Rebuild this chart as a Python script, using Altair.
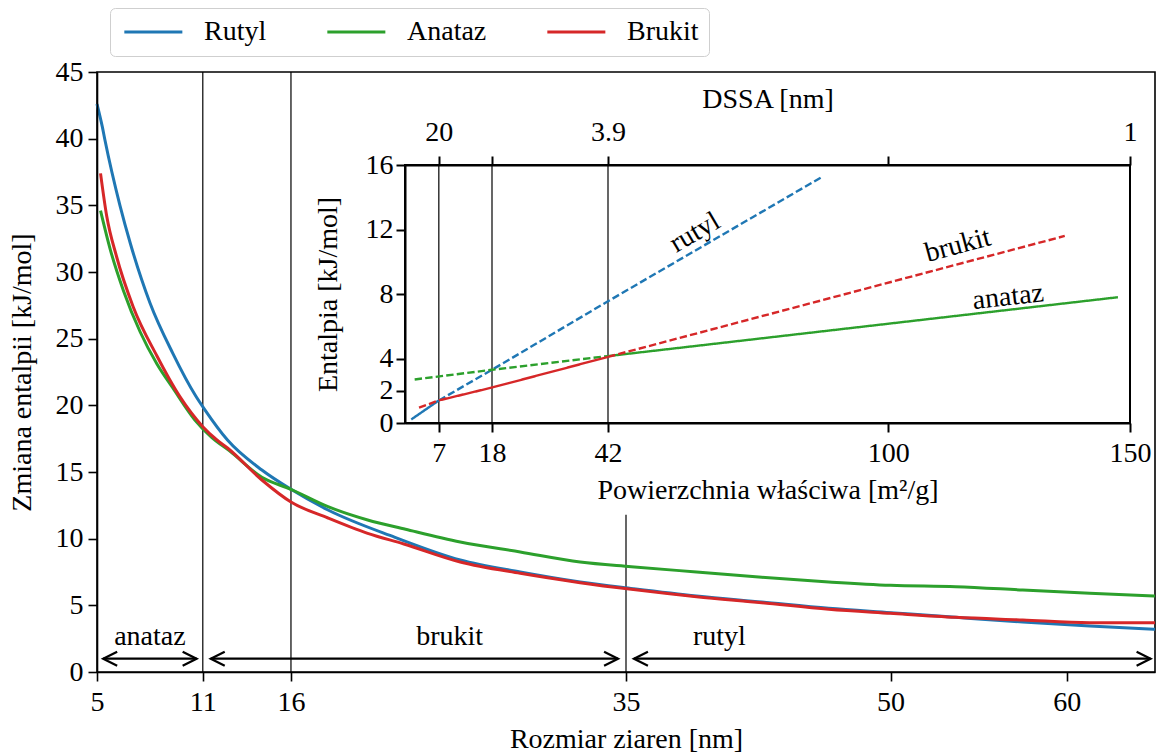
import altair as alt
import pandas as pd

FONT = "Liberation Serif"
FS = 28

# ---------------- main chart data ----------------
series_names = ["Rutyl", "Anataz", "Brukit"]
series_colors = ["#1f77b4", "#2ca02c", "#d62728"]

rutyl_size = [5.0, 5.3, 5.45, 6.3, 6.9, 8.0, 9.3, 10.6, 11.1, 12.4, 14.35, 16.0, 18.1, 21.9,
              25.6, 29.0, 32.4, 35.4, 39.0, 42.7, 46.5, 50.0, 53.7, 57.5, 61.3, 65.0]
rutyl_dh = [42.6, 40.9, 39.9, 35.0, 32.1, 27.7, 23.9, 20.7, 19.7, 17.4, 15.15, 13.7, 12.15, 10.1,
            8.4, 7.5, 6.75, 6.25, 5.7, 5.25, 4.78, 4.45, 4.1, 3.75, 3.45, 3.2]

anataz_size = [5.2, 5.75, 6.5, 7.45, 8.4, 9.3, 10.55, 11.5, 12.5, 14.35, 16.0, 18.1, 20.35, 22.5,
               25.6, 29.0, 32.4, 35.3, 39.0, 42.7, 46.5, 50.0, 53.7, 57.5, 61.3, 65.0]
anataz_dh = [34.6, 31.7, 28.6, 25.5, 23.1, 21.3, 18.9, 17.6, 16.6, 14.6, 13.7, 12.4, 11.4, 10.7,
             9.75, 9.0, 8.25, 7.9, 7.5, 7.1, 6.75, 6.5, 6.4, 6.15, 5.9, 5.7]

brukit_size = [5.2, 5.55, 6.1, 7.05, 8.4, 9.7, 11.0, 11.8, 12.4, 14.35, 16.0, 18.1, 20.35, 22.4,
               25.6, 29.0, 32.4, 35.3, 39.0, 42.7, 46.5, 50.0, 53.7, 57.5, 61.3, 65.0]
brukit_dh = [37.4, 34.2, 31.2, 27.4, 23.7, 20.65, 18.4, 17.4, 16.8, 14.4, 12.75, 11.55, 10.4, 9.6,
             8.25, 7.4, 6.7, 6.2, 5.65, 5.2, 4.7, 4.4, 4.1, 3.9, 3.7, 3.7]

main_x_ticks = [5, 11, 16, 35, 50, 60]
main_y_ticks = [0, 5, 10, 15, 20, 25, 30, 35, 40, 45]

vline_x = [11, 16, 35]
vline_y0 = [0, 0, 0]
vline_y1 = [45, 45, 11.8]

range_names = ["anataz", "brukit", "rutyl"]
range_start = [5.35, 11.45, 35.45]
range_end = [10.65, 34.55, 64.75]
range_label_x = [8.0, 25.0, 40.3]
range_arrow_y = [1.0, 1.0, 1.0]
range_label_y = [2.0, 2.0, 2.0]

# ---------------- inset data ----------------
ins_x_ticks = [7, 18, 42, 100, 150]
ins_y_ticks = [0, 2, 4, 8, 12, 16]
dssa_tick_area = [7, 18, 42, 100, 150]
dssa_labels = ["20", "", "3.9", "", "1"]
ins_vline_area = [7, 18, 42]

rutyl_solid_area = [1.3, 7.0]
rutyl_solid_h = [0.22, 1.4]
rutyl_dash_area = [7.0, 18.0, 42.0, 86.5]
rutyl_dash_h = [1.4, 3.3, 7.55, 15.3]
brukit_dash1_area = [2.9, 7.0]
brukit_dash1_h = [0.95, 1.4]
brukit_solid_area = [7.0, 18.0, 42.0]
brukit_solid_h = [1.4, 2.2, 4.1]
brukit_dash2_area = [42.0, 136.5]
brukit_dash2_h = [4.1, 11.6]
anataz_dash_area = [2.0, 18.0, 42.0]
anataz_dash_h = [2.7, 3.3, 4.15]
anataz_solid_area = [42.0, 147.5]
anataz_solid_h = [4.15, 7.8]

ins_label_text = ["rutyl", "brukit", "anataz"]
ins_label_area = [60.0, 114.4, 124.8]
ins_label_h = [11.8, 11.0, 7.8]
ins_label_angle = [329.5, 345.0, 353.4]

# ---------------- tables ----------------
main_df = pd.concat([
    pd.DataFrame({"size": rutyl_size, "dh": rutyl_dh, "series": "Rutyl"}),
    pd.DataFrame({"size": anataz_size, "dh": anataz_dh, "series": "Anataz"}),
    pd.DataFrame({"size": brukit_size, "dh": brukit_dh, "series": "Brukit"}),
], ignore_index=True)

vline_df = pd.DataFrame({"x": vline_x, "y0": vline_y0, "y1": vline_y1})
range_df = pd.DataFrame({"name": range_names, "x0": range_start, "x1": range_end,
                         "lx": range_label_x, "ay": range_arrow_y, "ly": range_label_y})

segments = [
    (rutyl_solid_area, rutyl_solid_h, series_colors[0], "solid"),
    (rutyl_dash_area, rutyl_dash_h, series_colors[0], "dashed"),
    (anataz_dash_area, anataz_dash_h, series_colors[1], "dashed"),
    (anataz_solid_area, anataz_solid_h, series_colors[1], "solid"),
    (brukit_dash1_area, brukit_dash1_h, series_colors[2], "dashed"),
    (brukit_solid_area, brukit_solid_h, series_colors[2], "solid"),
    (brukit_dash2_area, brukit_dash2_h, series_colors[2], "dashed"),
]
rows = []
for i, (a, h, c, s) in enumerate(segments):
    for aa, hh in zip(a, h):
        rows.append({"area": aa, "h": hh, "seg": i, "col": c, "style": s})
ins_df = pd.DataFrame(rows)
ins_vline_df = pd.DataFrame({"area": ins_vline_area, "h0": [0] * 3, "h1": [16] * 3})
frame_df = pd.DataFrame({"a0": [0], "a1": [150], "h0": [0], "h1": [16]})

# ---------------- scales / axes ----------------
common_axis = dict(labelFont=FONT, labelFontSize=FS, titleFont=FONT, titleFontSize=FS,
                   titleFontWeight="normal", labelColor="black", titleColor="black",
                   domainColor="black", tickColor="black", grid=False, tickSize=9,
                   labelOverlap=False, zindex=1)

mx = alt.Scale(domain=[5, 65], nice=False, zero=False)
my = alt.Scale(domain=[0, 45], nice=False)
mx_axis = alt.Axis(values=main_x_ticks, title="Rozmiar ziaren [nm]", labelFlush=False,
                   labelPadding=7, titlePadding=9, domainWidth=1.6, tickWidth=1.6,
                   **common_axis)
my_axis = alt.Axis(values=main_y_ticks, title="Zmiana entalpii [kJ/mol]", labelPadding=5,
                   titlePadding=19, domainWidth=1.6, tickWidth=1.6, **common_axis)

ix = alt.Scale(domain=[0, 150], range=[308, 1033], nice=False, zero=False)
iy = alt.Scale(domain=[0, 16], range=[351, 93], nice=False)
ix_axis = alt.Axis(orient="bottom", offset=-249, values=ins_x_ticks,
                   title="Powierzchnia właściwa [m²/g]", labelFlush=False,
                   labelPadding=7, titlePadding=9, domainWidth=2, tickWidth=2, **common_axis)
iy_axis = alt.Axis(orient="left", offset=-308, values=ins_y_ticks, title="Entalpia [kJ/mol]",
                   labelPadding=3, titlePadding=23, domainWidth=2, tickWidth=2, **common_axis)

label_expr = " : ".join(
    [f"datum.value == {v} ? '{l}'" for v, l in zip(dssa_tick_area, dssa_labels)]) + " : ''"
top_axis = alt.Axis(orient="top", offset=-93, values=dssa_tick_area, labelExpr=label_expr,
                    title="DSSA [nm]", labelFlush=False, labelPadding=10,
                    titlePadding=5, domainWidth=2, tickWidth=2, **common_axis)

X = lambda f: alt.X(f, scale=mx, axis=mx_axis)
Y = lambda f: alt.Y(f, scale=my, axis=my_axis)
IX = lambda f: alt.X(f, scale=ix, axis=ix_axis)
IY = lambda f: alt.Y(f, scale=iy, axis=iy_axis)

# ---------------- main layer ----------------
legend = alt.Legend(title=None, orient="none", legendX=13, legendY=-64, direction="horizontal",
                    symbolType="M-1,0L5,0", symbolSize=374, symbolStrokeWidth=3,
                    labelFont=FONT, labelFontSize=FS, labelColor="black", labelOffset=56,
                    columnPadding=54, padding=10, fillColor="white", strokeColor="#cfcfcf",
                    cornerRadius=5)

lines = alt.Chart(main_df).mark_line(strokeWidth=3, interpolate="monotone").encode(
    x=X("size:Q"), y=Y("dh:Q"),
    color=alt.Color("series:N", scale=alt.Scale(domain=series_names, range=series_colors),
                    legend=legend, sort=series_names),
)
vlines = alt.Chart(vline_df).mark_rule(color="black", strokeWidth=1.2).encode(
    x=X("x:Q"), y=Y("y0:Q"), y2="y1:Q")
arrows = alt.Chart(range_df).mark_rule(color="black", strokeWidth=2.2).encode(
    x=X("x0:Q"), x2="x1:Q", y=Y("ay:Q"))
heads_l = alt.Chart(range_df).mark_point(
    shape="M1.6,-0.8L0,0L1.6,0.8", size=306, filled=False, color="black", strokeWidth=2.2,
    opacity=1).encode(x=X("x0:Q"), y=Y("ay:Q"))
heads_r = alt.Chart(range_df).mark_point(
    shape="M-1.6,-0.8L0,0L-1.6,0.8", size=306, filled=False, color="black", strokeWidth=2.2,
    opacity=1).encode(x=X("x1:Q"), y=Y("ay:Q"))
range_text = alt.Chart(range_df).mark_text(font=FONT, fontSize=FS, color="black",
                                           baseline="alphabetic", align="center").encode(
    x=X("lx:Q"), y=Y("ly:Q"), text="name:N")

main_layer = alt.layer(vlines, lines, arrows, heads_l, heads_r, range_text)

# ---------------- inset layer ----------------
ins_vlines = alt.Chart(ins_vline_df).mark_rule(color="black", strokeWidth=1.2).encode(
    x=IX("area:Q"), y=IY("h0:Q"), y2="h1:Q")
ins_lines = alt.Chart(ins_df).mark_line(strokeWidth=2.4).encode(
    x=IX("area:Q"), y=IY("h:Q"), detail="seg:N",
    color=alt.Color("col:N", scale=None),
    strokeDash=alt.StrokeDash("style:N", scale=alt.Scale(domain=["solid", "dashed"],
                                                          range=[[1, 0], [7.4, 3.2]]),
                              legend=None),
)
ins_texts = []
for t, a, h, ang in zip(ins_label_text, ins_label_area, ins_label_h, ins_label_angle):
    ins_texts.append(
        alt.Chart(pd.DataFrame({"area": [a], "h": [h], "t": [t]})).mark_text(
            font=FONT, fontSize=FS, color="black", angle=ang, baseline="middle",
            align="center").encode(x=IX("area:Q"), y=IY("h:Q"), text="t:N"))
inset_layer = alt.layer(ins_vlines, ins_lines, *ins_texts)

# ---------------- inset frame + top (DSSA) axis ----------------
top_layer = alt.Chart(frame_df).mark_rect(filled=False, color="black", strokeWidth=2).encode(
    x=alt.X("a0:Q", scale=ix, axis=top_axis), x2="a1:Q",
    y=alt.Y("h0:Q", scale=iy, axis=None), y2="h1:Q")

chart = alt.layer(main_layer, inset_layer, top_layer).resolve_scale(
    x="independent", y="independent", color="independent", strokeDash="independent"
).resolve_axis(x="independent", y="independent").properties(
    width=1058, height=600,
    padding={"left": 97, "top": 72, "right": 2, "bottom": 81},
    autosize=alt.AutoSizeParams(type="none"),
).configure(font=FONT).configure_axis(
    labelFont=FONT, titleFont=FONT,
).configure_legend(labelFont=FONT).configure_view(stroke="black", strokeWidth=1.6)

chart.save("out.html", embed_options={"renderer": "svg", "actions": False})
